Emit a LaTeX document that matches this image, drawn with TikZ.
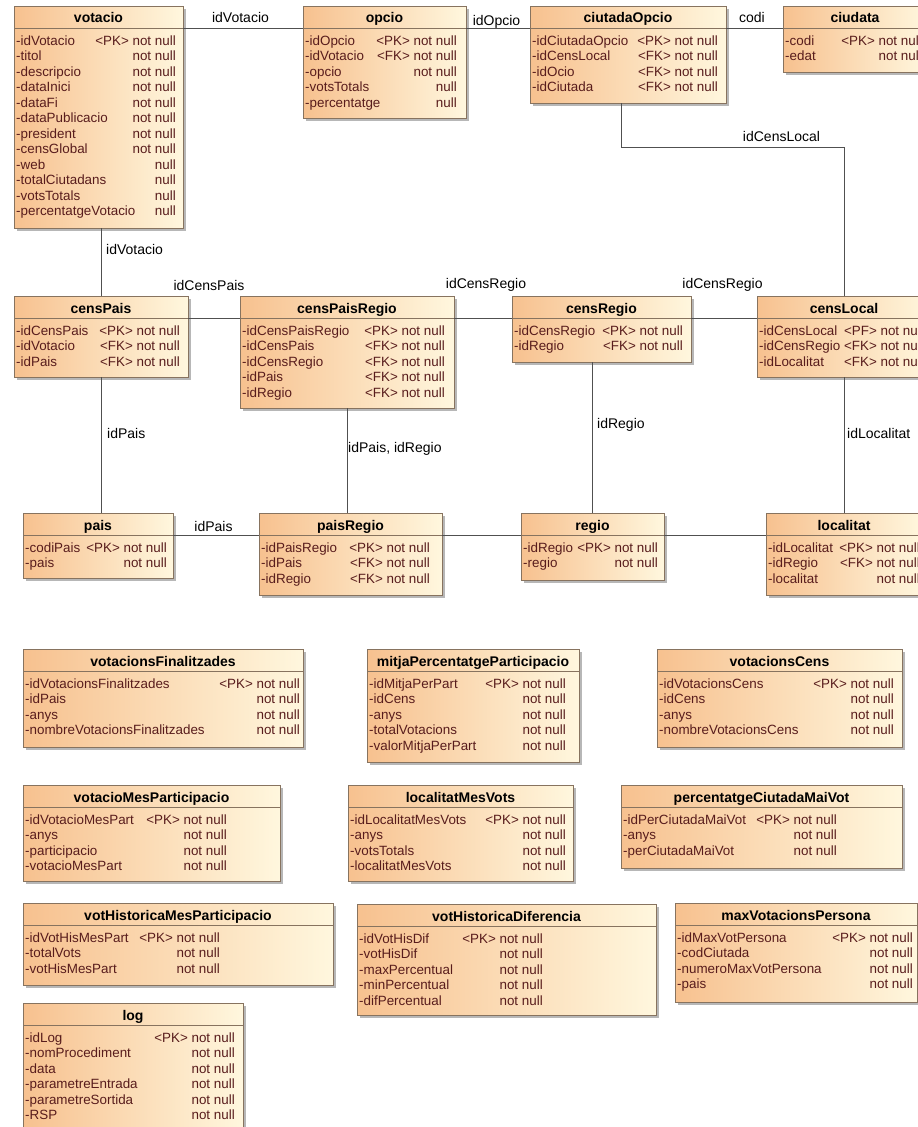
\documentclass[tikz,border=0pt]{standalone}
\usepackage{fontspec}
\setmainfont{Liberation Sans}
\usetikzlibrary{shadows,calc}
\definecolor{er_orange}{RGB}{247,193,143}
\definecolor{er_cream}{RGB}{255,247,222}
\definecolor{er_border}{RGB}{135,115,95}
\definecolor{er_text}{RGB}{88,28,28}
\definecolor{er_line}{RGB}{80,80,80}
\tikzstyle{tb}=[draw=er_border,line width=0.8pt,left color=er_orange,right color=er_cream,
  inner sep=0pt,outer sep=0pt,drop shadow={shadow xshift=2.5pt,shadow yshift=-2.5pt,opacity=0.4,fill=black!70}]
\tikzstyle{th}=[font=\fontsize{14}{16}\selectfont\bfseries,anchor=base,inner sep=0pt]
\tikzstyle{ta}=[font=\fontsize{13.4}{16}\selectfont,text=er_text,anchor=base west,inner sep=0pt]
\tikzstyle{tp}=[font=\fontsize{13.4}{16}\selectfont,text=er_text,anchor=base east,inner sep=0pt]
\tikzstyle{rel}=[draw=er_line,line width=0.9pt]
\tikzstyle{lbl}=[font=\fontsize{14}{16}\selectfont,anchor=base,inner sep=0pt]

% name, left, top, right, bottom, title, column, rows
\newcommand{\ertable}[8]{%
  \node[tb,minimum width={#4-#2},minimum height={#5-#3}] (#1) at ({(#2+#4)/2},{(#3+#5)/2}) {};
  \coordinate (#1-w) at (#2,#3+22);
  \coordinate (#1-e) at (#4,#3+22);
  \draw[draw=er_border,line width=0.8pt] (#1-w) -- (#1-e);
  \node[th] (#1-t) at ({(#2+#4)/2},#3+17) {#6};
  \foreach \att/\prop [count=\i] in {#8} {
    \node[ta] (#1-a\i) at (#2+2,{#3+39+15.5*(\i-1)}) {\att};
    \node[tp] (#1-p\i) at (#7,{#3+39+15.5*(\i-1)}) {\prop};
  }%
}

\begin{document}
\begin{tikzpicture}[x=1pt,y=-1pt]
	\useasboundingbox (0,0) rectangle (918,1127);
	\fill[white] (0,0) rectangle (918,1127);
	\clip (0,0) rectangle (918,1127);

	\ertable{votacio}{14}{6}{183}{228}{votacio}{176}{-idVotacio/<PK> not null,-titol/not null,-descripcio/not null,
	  -dataInici/not null,-dataFi/not null,-dataPublicacio/not null,-president/not null,-censGlobal/not null,
	  -web/null,-totalCiutadans/null,-votsTotals/null,-percentatgeVotacio/null}
	\ertable{opcio}{303}{6}{466}{118}{opcio}{457}{-idOpcio/<PK> not null,-idVotacio/<FK> not null,
	  -opcio/not null,-votsTotals/null,-percentatge/null}
	\ertable{ciutadaOpcio}{530}{6}{726}{103}{ciutadaOpcio}{718}{-idCiutadaOpcio/<PK> not null,
	  -idCensLocal/<FK> not null,-idOcio/<FK> not null,-idCiutada/<FK> not null}
	\ertable{ciudata}{783}{6}{927}{72}{ciudata}{922}{-codi/<PK> not null,-edat/not null}

	\ertable{censPais}{14}{296}{188}{377}{censPais}{180}{-idCensPais/<PK> not null,
	  -idVotacio/<FK> not null,-idPais/<FK> not null}
	\ertable{censPaisRegio}{240}{296}{454}{408}{censPaisRegio}{445}{-idCensPaisRegio/<PK> not null,
	  -idCensPais/<FK> not null,-idCensRegio/<FK> not null,-idPais/<FK> not null,-idRegio/<FK> not null}
	\ertable{censRegio}{512}{296}{691}{362}{censRegio}{683}{-idCensRegio/<PK> not null,-idRegio/<FK> not null}
	\ertable{censLocal}{757}{296}{931}{377}{censLocal}{924}{-idCensLocal/<PF> not null,
	  -idCensRegio/<FK> not null,-idLocalitat/<FK> not null}

	\ertable{pais}{23}{513}{173}{578}{pais}{167}{-codiPais/<PK> not null,-pais/not null}
	\ertable{paisRegio}{259}{513}{442}{595}{paisRegio}{430}{-idPaisRegio/<PK> not null,
	  -idPais/<FK> not null,-idRegio/<FK> not null}
	\ertable{regio}{521}{513}{664}{580}{regio}{658}{-idRegio/<PK> not null,-regio/not null}
	\ertable{localitat}{766}{513}{922}{595}{localitat}{920}{-idLocalitat/<PK> not null,
	  -idRegio/<FK> not null,-localitat/not null}

	\ertable{votacionsFinalitzades}{23}{649}{303}{747}{votacionsFinalitzades}{300}{-idVotacionsFinalitzades/<PK> not null,
	  -idPais/not null,-anys/not null,-nombreVotacionsFinalitzades/not null}
	\ertable{mitjaPercentatge}{367}{649}{579}{762}{mitjaPercentatgeParticipacio}{566}{-idMitjaPerPart/<PK> not null,
	  -idCens/not null,-anys/not null,-totalVotacions/not null,-valorMitjaPerPart/not null}
	\ertable{votacionsCens}{657}{649}{902}{747}{votacionsCens}{894}{-idVotacionsCens/<PK> not null,
	  -idCens/not null,-anys/not null,-nombreVotacionsCens/not null}

	\ertable{votacioMesPart}{23}{785}{280}{881}{votacioMesParticipacio}{227}{-idVotacioMesPart/<PK> not null,
	  -anys/not null,-participacio/not null,-votacioMesPart/not null}
	\ertable{localitatMesVots}{348}{785}{573}{881}{localitatMesVots}{566}{-idLocalitatMesVots/<PK> not null,
	  -anys/not null,-votsTotals/not null,-localitatMesVots/not null}
	\ertable{perCiutadaMaiVot}{621}{785}{902}{868}{percentatgeCiutadaMaiVot}{837}{-idPerCiutadaMaiVot/<PK> not null,
	  -anys/not null,-perCiutadaMaiVot/not null}

	\ertable{votHisMesPart}{23}{903}{333}{985}{votHistoricaMesParticipacio}{220}{-idVotHisMesPart/<PK> not null,
	  -totalVots/not null,-votHisMesPart/not null}
	\ertable{votHisDif}{357}{904}{656}{1015}{votHistoricaDiferencia}{543}{-idVotHisDif/<PK> not null,
	  -votHisDif/not null,-maxPercentual/not null,-minPercentual/not null,-difPercentual/not null}
	\ertable{maxVotPersona}{675}{903}{917}{1002}{maxVotacionsPersona}{913}{-idMaxVotPersona/<PK> not null,
	  -codCiutada/not null,-numeroMaxVotPersona/not null,-pais/not null}
	\ertable{log}{23}{1003}{243}{1132}{log}{235}{-idLog/<PK> not null,-nomProcediment/not null,
	  -data/not null,-parametreEntrada/not null,-parametreSortida/not null,-RSP/not null}

	% relations
	\draw[rel] (votacio-e) -- (opcio-w);
	\draw[rel] (opcio-e) -- (ciutadaOpcio-w);
	\draw[rel] (ciutadaOpcio-e) -- (ciudata-w);
	\draw[rel] ([xshift=-7]ciutadaOpcio.south) |- ([yshift=149]censLocal.north) -- (censLocal.north);
	\draw[rel] (censPais.north |- votacio.south) -- (censPais.north);
	\draw[rel] (censPais-e) -- (censPaisRegio-w);
	\draw[rel] (censPaisRegio-e) -- (censRegio-w);
	\draw[rel] (censRegio-e) -- (censLocal-w);
	\draw[rel] (censPais.south) -- (censPais.south |- pais.north);
	\draw[rel] (censPaisRegio.south) -- (censPaisRegio.south |- paisRegio.north);
	\draw[rel] (regio.north |- censRegio.south) -- (regio.north);
	\draw[rel] (censLocal.south) -- (censLocal.south |- localitat.north);
	\draw[rel] (pais-e) -- (paisRegio-w);
	\draw[rel] (paisRegio-e) -- (regio-w);
	\draw[rel] (regio-e) -- (localitat-w);

	\node[lbl] (1) at (240.5,22) {idVotacio};
	\node[lbl] (2) at (496.5,25.5) {idOpcio};
	\node[lbl] (3) at (752,23) {codi};
	\node[lbl] (4) at (781.5,141) {idCensLocal};
	\node[lbl,anchor=base west] (5) at (106,254) {idVotacio};
	\node[lbl] (6) at (209,290) {idCensPais};
	\node[lbl] (7) at (486,288) {idCensRegio};
	\node[lbl] (8) at (722.5,288) {idCensRegio};
	\node[lbl,anchor=base west] (9) at (107,438) {idPais};
	\node[lbl,anchor=base west] (10) at (348,452) {idPais, idRegio};
	\node[lbl,anchor=base west] (11) at (597,428) {idRegio};
	\node[lbl,anchor=base west] (12) at (847,438) {idLocalitat};
	\node[lbl] (13) at (213.5,531) {idPais};
\end{tikzpicture}
\end{document}
